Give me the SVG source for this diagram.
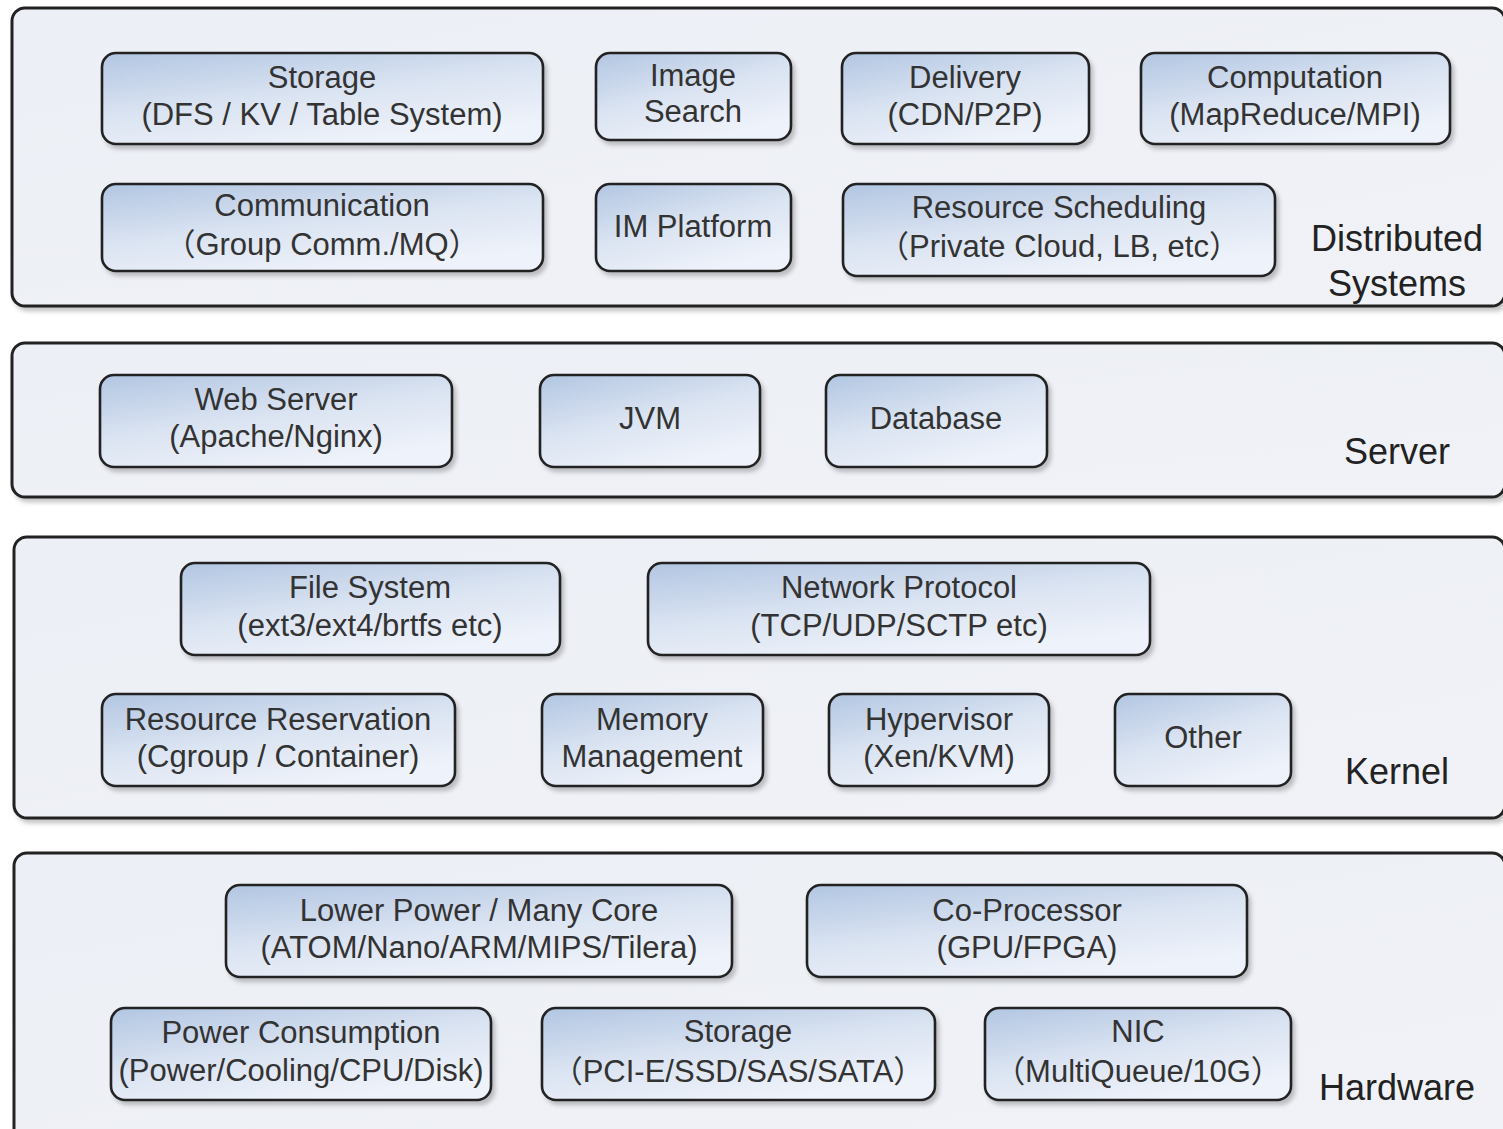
<svg xmlns="http://www.w3.org/2000/svg" width="1503" height="1129" viewBox="0 0 1503 1129">
<defs>
<linearGradient id="ng" x1="0" y1="0" x2="0.55" y2="1">
<stop offset="0" stop-color="#b2c6e2"/>
<stop offset="0.55" stop-color="#dbe4f2"/>
<stop offset="1" stop-color="#eef2fa"/>
</linearGradient>
<linearGradient id="lg" x1="0" y1="0" x2="1" y2="1">
<stop offset="0" stop-color="#eceff5"/>
<stop offset="1" stop-color="#f0f2f7"/>
</linearGradient>
<filter id="sh" x="-5%" y="-10%" width="110%" height="125%">
<feDropShadow dx="3" dy="4" stdDeviation="2" flood-color="#000" flood-opacity="0.22"/>
</filter>
</defs>
<style>
.layer{fill:url(#lg);stroke:#222;stroke-width:3;filter:url(#sh)}
.node{fill:url(#ng);stroke:#222;stroke-width:2.6;filter:url(#sh)}
.t{font-family:"Liberation Sans","Noto Sans CJK SC",Arial,sans-serif;font-size:31px;fill:#333;text-anchor:middle}
.lbl{font-family:"Liberation Sans","Noto Sans CJK SC",Arial,sans-serif;font-size:36px;fill:#222;text-anchor:middle}
</style>
<rect width="1503" height="1129" fill="#fff"/>

<g id="layer-distributed">
<rect class="layer" x="12" y="8" width="1493" height="298" rx="13"/>
<text class="lbl" x="1397" y="251">Distributed</text>
<text class="lbl" x="1397" y="296">Systems</text>
</g>
<g id="layer-server">
<rect class="layer" x="12" y="343" width="1493" height="154" rx="13"/>
<text class="lbl" x="1397" y="464">Server</text>
</g>
<g id="layer-kernel">
<rect class="layer" x="14" y="537" width="1491" height="281" rx="13"/>
<text class="lbl" x="1397" y="784">Kernel</text>
</g>
<g id="layer-hardware">
<rect class="layer" x="14" y="853" width="1491" height="290" rx="13"/>
<text class="lbl" x="1397" y="1100">Hardware</text>
</g>

<g id="n-storage"><rect class="node" x="102" y="53" width="441" height="91" rx="14"/><text class="t" x="322" y="88">Storage</text><text class="t" x="322" y="125">(DFS / KV / Table System)</text></g>
<g id="n-imagesearch"><rect class="node" x="596" y="53" width="195" height="87" rx="14"/><text class="t" x="693" y="86">Image</text><text class="t" x="693" y="122">Search</text></g>
<g id="n-delivery"><rect class="node" x="842" y="53" width="247" height="91" rx="14"/><text class="t" x="965" y="88">Delivery</text><text class="t" x="965" y="125">(CDN/P2P)</text></g>
<g id="n-computation"><rect class="node" x="1141" y="53" width="309" height="91" rx="14"/><text class="t" x="1295" y="88">Computation</text><text class="t" x="1295" y="125">(MapReduce/MPI)</text></g>
<g id="n-communication"><rect class="node" x="102" y="184" width="441" height="87" rx="14"/><text class="t" x="322" y="216">Communication</text><text class="t" x="322" y="255">（Group Comm./MQ）</text></g>
<g id="n-im"><rect class="node" x="596" y="184" width="195" height="87" rx="14"/><text class="t" x="693" y="237">IM Platform</text></g>
<g id="n-resched"><rect class="node" x="843" y="184" width="432" height="92" rx="14"/><text class="t" x="1059" y="218">Resource Scheduling</text><text class="t" x="1059" y="257">（Private Cloud, LB, etc）</text></g>

<g id="n-web"><rect class="node" x="100" y="375" width="352" height="92" rx="14"/><text class="t" x="276" y="410">Web Server</text><text class="t" x="276" y="447">(Apache/Nginx)</text></g>
<g id="n-jvm"><rect class="node" x="540" y="375" width="220" height="92" rx="14"/><text class="t" x="650" y="429">JVM</text></g>
<g id="n-db"><rect class="node" x="826" y="375" width="221" height="92" rx="14"/><text class="t" x="936" y="429">Database</text></g>

<g id="n-fs"><rect class="node" x="181" y="563" width="379" height="92" rx="14"/><text class="t" x="370" y="598">File System</text><text class="t" x="370" y="636">(ext3/ext4/brtfs etc)</text></g>
<g id="n-net"><rect class="node" x="648" y="563" width="502" height="92" rx="14"/><text class="t" x="899" y="598">Network Protocol</text><text class="t" x="899" y="636">(TCP/UDP/SCTP etc)</text></g>
<g id="n-resres"><rect class="node" x="102" y="694" width="353" height="92" rx="14"/><text class="t" x="278" y="730">Resource Reservation</text><text class="t" x="278" y="767">(Cgroup / Container)</text></g>
<g id="n-mem"><rect class="node" x="542" y="694" width="221" height="92" rx="14"/><text class="t" x="652" y="730">Memory</text><text class="t" x="652" y="767">Management</text></g>
<g id="n-hyp"><rect class="node" x="829" y="694" width="220" height="92" rx="14"/><text class="t" x="939" y="730">Hypervisor</text><text class="t" x="939" y="767">(Xen/KVM)</text></g>
<g id="n-other"><rect class="node" x="1115" y="694" width="176" height="92" rx="14"/><text class="t" x="1203" y="748">Other</text></g>

<g id="n-lowpower"><rect class="node" x="226" y="885" width="506" height="92" rx="14"/><text class="t" x="479" y="921">Lower Power / Many Core</text><text class="t" x="479" y="958">(ATOM/Nano/ARM/MIPS/Tilera)</text></g>
<g id="n-coproc"><rect class="node" x="807" y="885" width="440" height="92" rx="14"/><text class="t" x="1027" y="921">Co-Processor</text><text class="t" x="1027" y="958">(GPU/FPGA)</text></g>
<g id="n-power"><rect class="node" x="111" y="1008" width="380" height="92" rx="14"/><text class="t" x="301" y="1043">Power Consumption</text><text class="t" x="301" y="1081">(Power/Cooling/CPU/Disk)</text></g>
<g id="n-hwstorage"><rect class="node" x="542" y="1008" width="393" height="92" rx="14"/><text class="t" x="738" y="1042">Storage</text><text class="t" x="738" y="1082">（PCI-E/SSD/SAS/SATA）</text></g>
<g id="n-nic"><rect class="node" x="985" y="1008" width="306" height="92" rx="14"/><text class="t" x="1138" y="1042">NIC</text><text class="t" x="1138" y="1082">（MultiQueue/10G）</text></g>

<g id="connectors"></g>
</svg>
